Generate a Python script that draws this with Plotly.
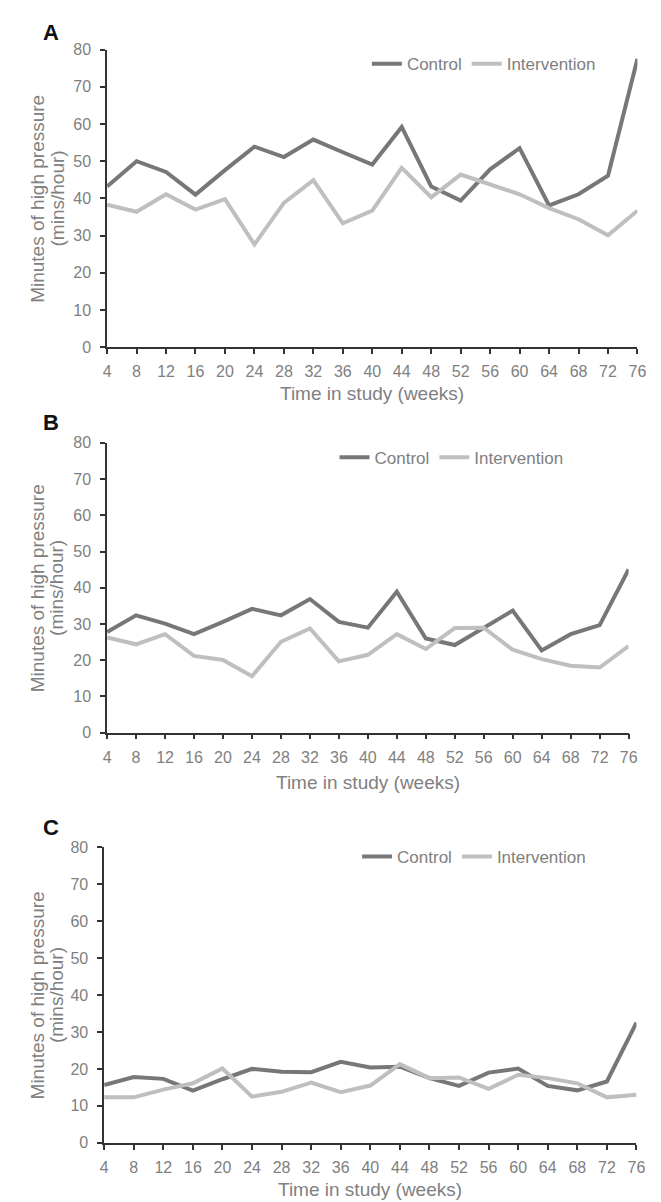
import plotly.graph_objects as go

# ---------------- data ----------------
weeks = [4, 8, 12, 16, 20, 24, 28, 32, 36, 40, 44, 48, 52, 56, 60, 64, 68, 72, 76]
week_labels = [str(w) for w in weeks]

control_a = [43.2, 50.0, 47.1, 41.0, 47.6, 53.9, 51.1, 55.8, 52.4, 49.1, 59.2, 43.2, 39.4, 47.8, 53.5, 38.1, 41.1, 46.1, 77.5]
interv_a = [38.3, 36.4, 41.1, 37.0, 39.8, 27.6, 38.8, 44.9, 33.3, 36.7, 48.2, 40.3, 46.4, 43.8, 41.1, 37.4, 34.4, 30.1, 36.7]

control_b = [27.8, 32.4, 30.1, 27.2, 30.6, 34.2, 32.4, 36.9, 30.6, 29.0, 38.9, 26.0, 24.2, 28.9, 33.7, 22.7, 27.2, 29.7, 45.1]
interv_b = [26.3, 24.4, 27.2, 21.2, 20.1, 15.6, 25.1, 28.8, 19.7, 21.5, 27.2, 23.1, 28.9, 29.0, 22.9, 20.3, 18.5, 18.0, 23.9]

control_c = [15.6, 17.8, 17.3, 14.1, 17.2, 20.0, 19.2, 19.1, 21.9, 20.4, 20.6, 17.5, 15.4, 19.0, 20.1, 15.4, 14.2, 16.6, 32.5]
interv_c = [12.3, 12.3, 14.4, 16.1, 20.1, 12.5, 13.8, 16.3, 13.7, 15.5, 21.3, 17.5, 17.7, 14.6, 18.4, 17.5, 16.1, 12.3, 13.0]

series_names = ["Control", "Intervention"]
panel_labels = ["A", "B", "C"]
y_ticks = [0, 10, 20, 30, 40, 50, 60, 70, 80]
x_title = "Time in study (weeks)"
y_title_lines = ["Minutes of high pressure", "(mins/hour)"]

# ---------------- layout helpers ----------------
W, H = 661, 1202
def fx(px):
    return px / W
def fy(px):
    return 1 - px / H

CTRL_COLOR = "#777777"
INT_COLOR = "#bfbfbf"
TEXT_GRAY = "#808080"
AXIS_COLOR = "#333333"
FONT = "Liberation Sans, Arial, sans-serif"

# plot areas in pixels: (left, right, top, bottom), legend (x, y), x-title y, label y
panels = [
    dict(box=(97, 638, 34, 336), leg=(362, 49), xt=383, lab=17),
    dict(box=(97, 629, 433, 727), leg=(329, 448), xt=778, lab=412),
    dict(box=(94, 637, 843, 1143), leg=(352, 853), xt=1190, lab=823),
]
data_sets = [(control_a, interv_a), (control_b, interv_b), (control_c, interv_c)]
y_title_x = [26, 46]

fig = go.Figure()
annotations = []
layout = {}

for i, (p, (ctrl, intv)) in enumerate(zip(panels, data_sets)):
    n = "" if i == 0 else str(i + 1)
    legname = "legend" + n
    l, r, t, b = p["box"]
    fig.add_trace(go.Scatter(x=weeks, y=ctrl, mode="lines", name=series_names[0],
                             line=dict(color=CTRL_COLOR, width=4),
                             xaxis="x" + n, yaxis="y" + n, legend=legname))
    fig.add_trace(go.Scatter(x=weeks, y=intv, mode="lines", name=series_names[1],
                             line=dict(color=INT_COLOR, width=4),
                             xaxis="x" + n, yaxis="y" + n, legend=legname))
    layout["xaxis" + n] = dict(
        domain=[fx(l), fx(r)], anchor="y" + n, range=[4, 76],
        tickmode="array", tickvals=weeks, ticktext=week_labels,
        showline=True, linecolor=AXIS_COLOR, linewidth=1.5,
        ticks="outside", ticklen=5, tickwidth=1.5, tickcolor=AXIS_COLOR,
        showgrid=False, zeroline=False, ticklabelstandoff=4,
        tickfont=dict(family=FONT, size=16, color=TEXT_GRAY),
    )
    layout["yaxis" + n] = dict(
        domain=[fy(b), fy(t)], anchor="x" + n, range=[0, 80],
        tickmode="array", tickvals=y_ticks,
        showline=True, linecolor=AXIS_COLOR, linewidth=1.5,
        ticks="outside", ticklen=5, tickwidth=1.5, tickcolor=AXIS_COLOR,
        showgrid=False, zeroline=False, ticklabelstandoff=6,
        tickfont=dict(family=FONT, size=16, color=TEXT_GRAY),
    )
    layout[legname] = dict(
        orientation="h", x=fx(p["leg"][0]), y=fy(p["leg"][1]),
        xanchor="left", yanchor="middle", bgcolor="rgba(0,0,0,0)",
        font=dict(family=FONT, size=17, color=TEXT_GRAY),
        itemwidth=30, tracegroupgap=0,
    )
    # x-axis title
    annotations.append(dict(text=x_title, x=fx((l + r) / 2), y=fy(p["xt"]),
                            xref="paper", yref="paper", showarrow=False,
                            xanchor="center", yanchor="middle",
                            font=dict(family=FONT, size=19, color=TEXT_GRAY)))
    # y-axis title (two lines, tight spacing)
    for line_text, lx in zip(y_title_lines, y_title_x):
        annotations.append(dict(text=line_text, x=fx(lx), y=fy((t + b) / 2),
                                xref="paper", yref="paper", showarrow=False,
                                textangle=-90, xanchor="center", yanchor="middle",
                                font=dict(family=FONT, size=19, color=TEXT_GRAY)))
    # panel label
    annotations.append(dict(text="<b>" + panel_labels[i] + "</b>", x=fx(40), y=fy(p["lab"]),
                            xref="paper", yref="paper", showarrow=False,
                            xanchor="center", yanchor="middle",
                            font=dict(family=FONT, size=22, color="#111111")))

fig.update_layout(
    width=W, height=H,
    margin=dict(l=0, r=0, t=0, b=0),
    paper_bgcolor="white", plot_bgcolor="white",
    annotations=annotations,
    showlegend=True,
    **layout,
)

fig.write_html("out.html")
